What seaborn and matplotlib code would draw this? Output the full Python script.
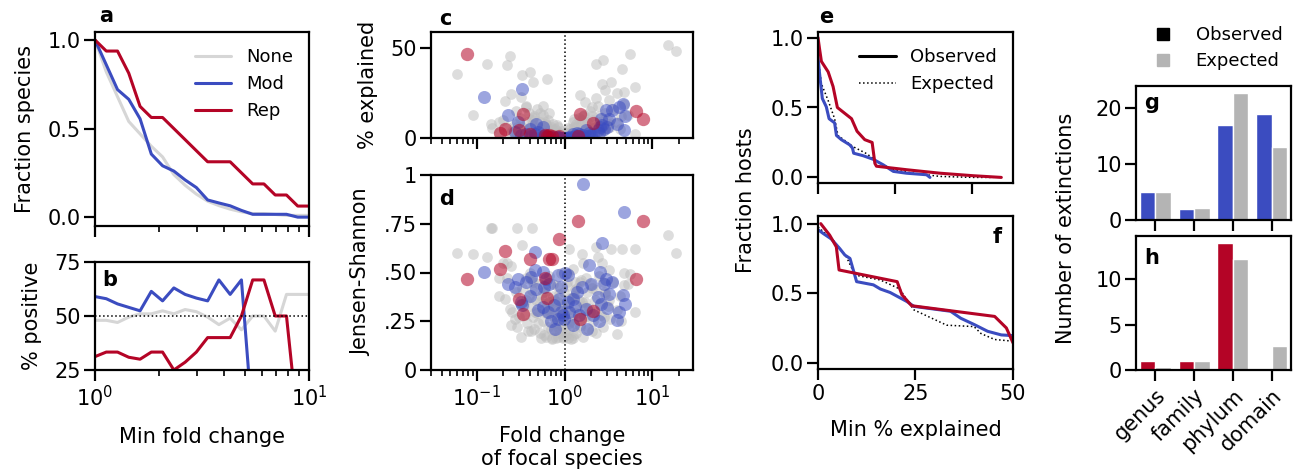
import numpy as np
import pandas as pd
import matplotlib
matplotlib.use("Agg")
import matplotlib.pyplot as plt
import seaborn as sns
from matplotlib.lines import Line2D
from matplotlib.ticker import NullFormatter

# ---------------- data ----------------
fold_grid = [1.0, 1.129, 1.274, 1.438, 1.624, 1.833, 2.069, 2.336, 2.637, 2.976,
             3.360, 3.793, 4.281, 4.833, 5.456, 6.158, 6.952, 7.848, 8.859, 10.0]
frac_none = [1.0, 0.82, 0.68, 0.54, 0.47, 0.40, 0.34, 0.24, 0.18, 0.13,
             0.09, 0.065, 0.045, 0.03, 0.02, 0.02, 0.015, 0.01, 0.01, 0.01]
frac_mod = [1.0, 0.86, 0.72, 0.665, 0.555, 0.356, 0.29, 0.26, 0.21, 0.167,
            0.097, 0.08, 0.064, 0.038, 0.016, 0.016, 0.016, 0.016, 0.0, 0.0]
frac_rep = [1.0, 0.9375, 0.9375, 0.8125, 0.625, 0.5625, 0.5625, 0.5, 0.4375, 0.375,
            0.3125, 0.3125, 0.3125, 0.25, 0.1875, 0.1875, 0.125, 0.125, 0.0625, 0.0625]
pos_none = [48, 48, 47, 49.5, 51, 51, 52.4, 51, 53, 52,
            49.5, 46, 49, 43.6, 50, 50, 43, 60, 60, 60]
pos_mod = [59, 58, 55.6, 54, 52.4, 61.4, 57, 63, 60, 58.3,
           57, 66.7, 60, 66.7, 0, np.nan, np.nan, np.nan, np.nan, np.nan]
pos_rep = [31.2, 33.3, 33.3, 30.9, 30, 33.3, 33.3, 25, 28.6, 33.3,
           40, 40, 40, 50, 66.7, 66.7, 50, 50, 0, np.nan]

# scatter: fold change of focal species, % explained, Jensen-Shannon
out_fc = [0.06, 0.091, 0.131, 0.144, 0.15, 0.18, 0.207, 0.22, 0.237, 0.247,
          0.247, 0.286, 0.32, 0.33, 0.366, 0.40, 0.41, 0.428, 0.44, 0.54,
          0.56, 0.625, 0.67, 14.9, 18.8, 5.55, 2.27, 2.77, 4.54, 2.69,
          3.35, 2.89, 3.92, 4.74, 6.3, 6.3, 1.49, 1.57, 1.70, 2.3,
          3.2, 2.07, 1.29, 1.08, 1.13, 4.35]
out_pct = [35.6, 12.7, 41.2, 8.0, 5.3, 9.0, 20.5, 40.7, 45.7, 24.5,
           3.0, 6.0, 23.0, 34.9, 17.3, 37.0, 6.0, 4.0, 31.3, 3.0,
           17.7, 32.8, 13.8, 51.5, 48.5, 46.7, 41.2, 43.5, 38.3, 30.0,
           31.3, 26.7, 24.8, 25.7, 28.2, 2.0, 23.9, 5.0, 20.1, 22.0,
           21.1, 17.3, 10.8, 5.3, 2.0, 12.0]
out_js = [0.602, 0.597, 0.58, 0.728, 0.728, 0.47, 0.362, 0.55, 0.314, 0.532,
          0.232, 0.728, 0.169, 0.643, 0.36, 0.50, 0.198, 0.728, 0.45, 0.166,
          0.40, 0.30, 0.35, 0.69, 0.60, 0.494, 0.631, 0.45, 0.619, 0.55,
          0.619, 0.40, 0.183, 0.434, 0.297, 0.619, 0.45, 0.597, 0.35, 0.30,
          0.511, 0.42, 0.38, 0.5, 0.619, 0.25]

clu_fc = [0.25, 0.27, 0.29, 0.31, 0.33, 0.35, 0.37, 0.39, 0.41, 0.43,
          0.45, 0.47, 0.49, 0.51, 0.53, 0.55, 0.57, 0.59, 0.61, 0.63,
          0.65, 0.67, 0.69, 0.71, 0.73, 0.75, 0.77, 0.79, 0.81, 0.83,
          0.85, 0.87, 0.89, 0.91, 0.93, 0.95, 0.97, 0.99, 1.01, 1.03,
          1.05, 1.08, 1.11, 1.14, 1.17, 1.2, 1.24, 1.28, 1.32, 1.36,
          1.4, 1.45, 1.5, 1.55, 1.6, 1.66, 1.72, 1.78, 1.85, 1.92,
          2.0, 2.1, 2.2, 2.3, 2.45, 2.6, 2.75, 2.9, 3.1, 3.3,
          3.6, 3.9, 4.3, 4.8, 5.3, 0.22, 0.2, 0.18, 0.72, 0.8,
          0.95, 1.1, 1.25]
clu_pct = [4, 8, 2, 11, 6, 3, 9, 14, 1, 7,
           12, 4, 16, 2, 9, 5, 13, 1, 7, 3,
           10, 2, 6, 1, 8, 3, 5, 1, 4, 2,
           6, 1, 3, 0.5, 2, 0.5, 1, 0.3, 0.3, 1,
           0.5, 2, 1, 3, 0.5, 4, 2, 6, 1, 8,
           3, 11, 2, 7, 4, 13, 1, 9, 5, 15,
           3, 10, 6, 2, 12, 8, 4, 14, 10, 6,
           16, 9, 5, 19, 13, 6, 10, 3, 0.2, 0.2,
           0.2, 0.2, 0.2]
clu_js = [0.30, 0.26, 0.22, 0.34, 0.42, 0.28, 0.24, 0.38, 0.33, 0.46,
          0.21, 0.36, 0.29, 0.44, 0.19, 0.31, 0.25, 0.40, 0.17, 0.34,
          0.22, 0.48, 0.28, 0.16, 0.38, 0.20, 0.31, 0.24, 0.43, 0.17,
          0.35, 0.27, 0.19, 0.50, 0.30, 0.22, 0.17, 0.40, 0.26, 0.18,
          0.45, 0.33, 0.21, 0.37, 0.16, 0.28, 0.52, 0.24, 0.41, 0.19,
          0.31, 0.36, 0.23, 0.46, 0.17, 0.33, 0.27, 0.40, 0.21, 0.30,
          0.44, 0.25, 0.36, 0.19, 0.48, 0.28, 0.22, 0.39, 0.33, 0.26,
          0.45, 0.31, 0.38, 0.50, 0.44, 0.47, 0.55, 0.38, 0.165, 0.165,
          0.165, 0.165, 0.165]

clu2_fc = [0.3, 0.34, 0.38, 0.42, 0.46, 0.5, 0.54, 0.58, 0.62, 0.66,
           0.7, 0.74, 0.78, 0.82, 0.86, 0.9, 0.94, 0.98, 1.02, 1.06,
           1.1, 1.15, 1.2, 1.26, 1.33, 1.4, 1.48, 1.56, 1.65, 1.75,
           1.9, 2.05, 2.25, 2.5, 2.8, 3.2, 0.28, 0.36, 0.44, 0.52,
           0.6, 0.68, 0.76, 0.84, 0.92, 1.0, 1.12, 1.3, 1.6, 2.4]
clu2_pct = [1, 5, 3, 10, 2, 6, 1, 4, 8, 2,
            5, 1, 3, 7, 1, 2, 4, 0.5, 1, 3,
            0.5, 5, 2, 9, 1, 6, 3, 10, 2, 7,
            4, 12, 6, 9, 5, 8, 15, 18, 11, 14,
            9, 4, 2, 1, 0.5, 0.2, 1.5, 3, 12, 18]
clu2_js = [0.27, 0.33, 0.20, 0.41, 0.30, 0.24, 0.38, 0.18, 0.29, 0.35,
           0.21, 0.44, 0.26, 0.32, 0.39, 0.23, 0.28, 0.34, 0.20, 0.43,
           0.31, 0.25, 0.37, 0.18, 0.29, 0.42, 0.22, 0.35, 0.27, 0.47,
           0.32, 0.20, 0.41, 0.34, 0.27, 0.36, 0.40, 0.47, 0.27, 0.35,
           0.44, 0.31, 0.36, 0.22, 0.34, 0.29, 0.24, 0.45, 0.55, 0.58]

mod_fc = [0.12, 0.226, 0.269, 0.294, 0.33, 0.32, 0.366, 0.417, 0.454, 0.454,
          0.474, 0.564, 0.589, 0.615, 0.671, 0.564, 0.643, 0.764, 0.834, 0.87,
          0.91, 0.95, 0.834, 1.0, 1.08, 1.13, 0.995, 1.23, 1.23, 1.47,
          1.57, 1.63, 1.75, 1.82, 1.87, 2.1, 2.43, 2.45, 2.51, 2.58,
          2.69, 2.82, 2.94, 3.07, 3.2, 3.5, 3.98, 4.17, 4.62, 4.74,
          4.9, 0.7, 0.78, 1.3, 1.4, 0.5, 0.4, 2.0, 1.1, 0.9]
mod_pct = [23.0, 12.7, 3.4, 9.0, 27.2, 1.5, 2.4, 1.0, 2.0, 0.8,
           8.0, 6.0, 1.2, 0.6, 0.5, 1.0, 0.4, 0.3, 0.3, 0.2,
           0.2, 0.2, 0.4, 0.1, 0.2, 0.3, 0.2, 2.0, 0.5, 2.4,
           0.8, 1.5, 4.3, 1.0, 3.0, 2.0, 4.3, 3.0, 6.0, 10.8,
           7.0, 5.0, 15.5, 6.0, 10.8, 15.5, 8.0, 17.0, 18.8, 4.7,
           12.0, 0.5, 0.2, 1.0, 3.0, 3.5, 5.0, 1.5, 0.1, 0.1]
mod_js = [0.503, 0.443, 0.426, 0.468, 0.332, 0.35, 0.451, 0.477, 0.605, 0.511,
          0.417, 0.503, 0.426, 0.468, 0.443, 0.323, 0.297, 0.332, 0.486, 0.366,
          0.426, 0.28, 0.263, 0.50, 0.486, 0.297, 0.263, 0.366, 0.229, 0.28,
          0.426, 0.955, 0.314, 0.212, 0.54, 0.28, 0.374, 0.25, 0.503, 0.34,
          0.651, 0.443, 0.465, 0.318, 0.39, 0.45, 0.255, 0.30, 0.386, 0.81,
          0.34, 0.25, 0.21, 0.33, 0.40, 0.31, 0.38, 0.44, 0.35, 0.30]

rep_fc = [0.078, 0.182, 0.211, 0.30, 0.335, 0.40, 0.59, 0.625,
          0.66, 0.72, 0.87, 1.41, 1.49, 2.08, 6.43, 7.78]
rep_pct = [46.6, 2.8, 4.9, 4.3, 13.6, 2.4, 1.5, 1.2,
           1.5, 1.2, 1.0, 1.0, 13.6, 8.4, 15.0, 10.3]
rep_js = [0.465, 0.52, 0.61, 0.362, 0.289, 0.567, 0.47, 0.37,
          0.567, 0.567, 0.673, 0.764, 0.263, 0.301, 0.468, 0.764]

# panel e: fraction hosts vs min % explained
e_rep_x = [0, 0.5, 1.1, 3.3, 4.9, 6.3, 10.9, 12.7, 15.2, 17.6, 18.5, 19.0, 28.8, 39.7, 50.5, 59.6]
e_rep_y = [1.0, 0.92, 0.83, 0.755, 0.65, 0.50, 0.42, 0.33, 0.27, 0.25, 0.10, 0.08, 0.055, 0.03, 0.012, 0.0]
e_mod_x = [0, 0.5, 1.4, 2.7, 3.6, 5.4, 6.0, 7.6, 10.3, 11.2, 11.6, 14.7, 17.9, 21.2, 24.5, 28.8, 35.3, 36.4]
e_mod_y = [0.86, 0.745, 0.565, 0.505, 0.42, 0.39, 0.30, 0.27, 0.233, 0.21, 0.173, 0.155, 0.13, 0.09, 0.043, 0.03, 0.019, 0.0]
e_exp_x = [0, 1.1, 3.3, 5.4, 6.5, 11.4, 15.8, 20.1, 24.5, 31.0, 39.7, 50.5, 57.0]
e_exp_y = [0.86, 0.67, 0.55, 0.42, 0.30, 0.22, 0.17, 0.10, 0.055, 0.03, 0.007, 0.0, 0.0]

# panel f
f_rep_x = [0.7, 3.0, 4.7, 5.4, 20.3, 21.5, 24.0, 45.3, 48.3, 50]
f_rep_y = [1.0, 0.917, 0.833, 0.667, 0.583, 0.49, 0.41, 0.333, 0.25, 0.143]
f_mod_x = [0, 1.3, 3.4, 5.6, 6.9, 8.2, 9.9, 14.2, 16.0, 18.5, 22.8, 24.6, 34.0, 36.6, 40.1, 43.5, 47.0, 50]
f_mod_y = [0.957, 0.93, 0.89, 0.82, 0.774, 0.75, 0.583, 0.56, 0.53, 0.505, 0.44, 0.405, 0.37, 0.32, 0.274, 0.226, 0.20, 0.195]
f_exp_x = [0, 3.9, 7.3, 9.5, 16, 21, 22.8, 24.6, 33, 40, 41.8, 45.3, 50]
f_exp_y = [0.976, 0.88, 0.76, 0.63, 0.595, 0.53, 0.45, 0.38, 0.27, 0.26, 0.21, 0.167, 0.155]

# panels g, h
levels = ["genus", "family", "phylum", "domain"]
g_obs = [5, 2, 17, 19]
g_exp = [5, 2.2, 22.7, 13]
h_obs = [1, 1, 14, 0]
h_exp = [0.35, 1, 12.2, 2.6]

# ---------------- style ----------------
BLUE = "#3b4cc0"
RED = "#b40426"
LGRAY = "#d6d6d6"
BGRAY = "#b4b4b4"
FS = 15

sns.set_style("ticks")
plt.rcParams.update({
    "font.family": ["DejaVu Sans"],
    "font.size": FS, "axes.labelsize": FS,
    "xtick.labelsize": FS, "ytick.labelsize": FS, "legend.fontsize": 13,
    "axes.linewidth": 1.6, "axes.edgecolor": "black",
    "xtick.color": "black", "ytick.color": "black",
    "xtick.major.width": 1.6, "ytick.major.width": 1.6,
    "xtick.major.size": 8, "ytick.major.size": 8,
    "xtick.minor.size": 4.5, "xtick.minor.width": 1.2,
    "ytick.minor.size": 4.5, "ytick.minor.width": 1.2,
    "xtick.major.pad": 3, "ytick.major.pad": 2,
    "text.color": "black", "axes.labelcolor": "black",
})

W, H = 1298, 469
fig = plt.figure(figsize=(W / 100, H / 100), dpi=100)


def add(l, t, r, b):
    return fig.add_axes([l / W, 1 - b / H, (r - l) / W, (b - t) / H])


ax_a = add(95, 32, 309, 226)
ax_b = add(95, 262, 309, 370)
ax_c = add(431, 32, 693, 138)
ax_d = add(431, 175, 693, 370)
ax_e = add(818, 32, 1013, 183)
ax_f = add(818, 216, 1013, 369)
ax_g = add(1136, 86, 1291, 220)
ax_h = add(1136, 236, 1291, 370)

grp_pal = {"None": LGRAY, "Mod": BLUE, "Rep": RED}
LET = dict(weight="bold", fontsize=15)

# ---- panel a ----
df_a = pd.DataFrame({
    "fold": fold_grid * 3,
    "frac": frac_none + frac_mod + frac_rep,
    "group": ["None"] * 20 + ["Mod"] * 20 + ["Rep"] * 20,
})
ax_a.set_xscale("log")
sns.lineplot(data=df_a, x="fold", y="frac", hue="group", palette=grp_pal,
             hue_order=["None", "Mod", "Rep"], lw=2.2, estimator=None, sort=False, ax=ax_a)
ax_a.set_xlim(1, 10)
ax_a.set_ylim(-0.05, 1.045)
ax_a.set_yticks([0, 0.5, 1.0])
ax_a.tick_params(axis="x", which="both", labelbottom=False)
ax_a.set_xlabel("")
ax_a.set_ylabel("Fraction species", labelpad=9)
ax_a.legend(frameon=False, loc="upper right", handlelength=2.0)
ax_a.text(0.02, 1.03, "a", transform=ax_a.transAxes, va="bottom", **LET)

# ---- panel b ----
df_b = pd.DataFrame({
    "fold": fold_grid * 3,
    "pos": pos_none + pos_mod + pos_rep,
    "group": ["None"] * 20 + ["Mod"] * 20 + ["Rep"] * 20,
})
ax_b.set_xscale("log")
sns.lineplot(data=df_b, x="fold", y="pos", hue="group", palette=grp_pal,
             hue_order=["None", "Mod", "Rep"], lw=2.2, estimator=None, sort=False,
             legend=False, ax=ax_b)
ax_b.axhline(50, color="black", ls=":", lw=1.1)
ax_b.set_xlim(1, 10)
ax_b.set_ylim(25, 75)
ax_b.set_yticks([25, 50, 75])
ax_b.xaxis.set_minor_formatter(NullFormatter())
ax_b.set_ylabel("% positive", labelpad=9)
ax_b.set_xlabel("Min fold change", labelpad=12)
ax_b.text(0.033, 0.93, "b", transform=ax_b.transAxes, va="top", **LET)

# ---- panels c, d ----
df_gray = pd.DataFrame({"fc": out_fc + clu_fc + clu2_fc,
                        "pct": out_pct + clu_pct + clu2_pct,
                        "js": out_js + clu_js + clu2_js})
df_mod = pd.DataFrame({"fc": mod_fc, "pct": mod_pct, "js": mod_js})
df_rep = pd.DataFrame({"fc": rep_fc, "pct": rep_pct, "js": rep_js})

for ax, col in [(ax_c, "pct"), (ax_d, "js")]:
    ax.set_xscale("log")
    sns.scatterplot(data=df_gray, x="fc", y=col, color="#bdbdbd", alpha=0.5, s=60,
                    linewidth=0, ax=ax)
    sns.scatterplot(data=df_mod, x="fc", y=col, color=BLUE, alpha=0.5, s=88,
                    linewidth=0, ax=ax)
    sns.scatterplot(data=df_rep, x="fc", y=col, color=RED, alpha=0.55, s=92,
                    linewidth=0, ax=ax)
    ax.axvline(1, color="black", ls=":", lw=1.1)
    ax.set_xlim(0.03, 29)
    ax.xaxis.set_minor_formatter(NullFormatter())

ax_c.set_ylim(0, 59)
ax_c.set_yticks([0, 50])
ax_c.tick_params(axis="x", which="both", labelbottom=False)
ax_c.set_xlabel("")
ax_c.set_ylabel("% explained", labelpad=9)
ax_c.text(0.03, 1.03, "c", transform=ax_c.transAxes, va="bottom", **LET)

ax_d.set_ylim(0, 1)
ax_d.set_yticks([0, 0.25, 0.5, 0.75, 1])
ax_d.set_yticklabels(["0", ".25", ".50", ".75", "1"])
ax_d.set_ylabel("Jensen-Shannon", labelpad=9)
ax_d.set_xlabel("Fold change\nof focal species", labelpad=11)
ax_d.text(0.03, 0.93, "d", transform=ax_d.transAxes, va="top", **LET)

# ---- panel e ----
sns.lineplot(x=e_exp_x, y=e_exp_y, color="black", ls=":", lw=1.1, estimator=None, sort=False, ax=ax_e)
sns.lineplot(x=e_mod_x, y=e_mod_y, color=BLUE, lw=2.2, estimator=None, sort=False, ax=ax_e)
sns.lineplot(x=e_rep_x, y=e_rep_y, color=RED, lw=2.2, estimator=None, sort=False, ax=ax_e)
ax_e.set_xlim(0, 63.4)
ax_e.set_ylim(-0.04, 1.04)
ax_e.set_xticks([0, 25, 50])
ax_e.set_yticks([0, 0.5, 1.0])
ax_e.tick_params(axis="x", labelbottom=False)
leg_handles = [Line2D([], [], color="black", lw=2.2), Line2D([], [], color="black", ls=":", lw=1.1)]
ax_e.legend(leg_handles, ["Observed", "Expected"], frameon=False, loc="upper right")
ax_e.text(0.005, 1.03, "e", transform=ax_e.transAxes, va="bottom", **LET)

# ---- panel f ----
sns.lineplot(x=f_exp_x, y=f_exp_y, color="black", ls=":", lw=1.1, estimator=None, sort=False, ax=ax_f)
sns.lineplot(x=f_mod_x, y=f_mod_y, color=BLUE, lw=2.2, estimator=None, sort=False, ax=ax_f)
sns.lineplot(x=f_rep_x, y=f_rep_y, color=RED, lw=2.2, estimator=None, sort=False, ax=ax_f)
ax_f.set_xlim(0, 50)
ax_f.set_ylim(-0.045, 1.055)
ax_f.set_xticks([0, 25, 50])
ax_f.set_yticks([0, 0.5, 1.0])
ax_f.set_xlabel("Min % explained", labelpad=11)
ax_f.text(0.94, 0.93, "f", transform=ax_f.transAxes, va="top", ha="right", **LET)
fig.text(746 / W, 1 - 200 / H, "Fraction hosts", rotation=90, ha="center", va="center", fontsize=FS)

# ---- panels g, h ----
df_g = pd.DataFrame({"level": levels * 2, "n": g_obs + g_exp,
                     "kind": ["Observed"] * 4 + ["Expected"] * 4})
df_h = pd.DataFrame({"level": levels * 2, "n": h_obs + h_exp,
                     "kind": ["Observed"] * 4 + ["Expected"] * 4})
sns.barplot(data=df_g, x="level", y="n", hue="kind", palette={"Observed": BLUE, "Expected": BGRAY},
            saturation=1, legend=False, ax=ax_g)
sns.barplot(data=df_h, x="level", y="n", hue="kind", palette={"Observed": RED, "Expected": BGRAY},
            saturation=1, legend=False, ax=ax_h)
ax_g.set_ylim(0, 24)
ax_g.set_yticks([0, 10, 20])
ax_g.tick_params(axis="x", labelbottom=False)
ax_h.set_ylim(0, 14.75)
ax_h.set_yticks([0, 5, 10])
for ax in (ax_g, ax_h):
    ax.set_xlabel("")
    ax.set_ylabel("")
    ax.set_xlim(-0.5, 3.5)
plt.setp(ax_h.get_xticklabels(), rotation=45, ha="right", rotation_mode="anchor")
ax_g.text(0.05, 0.95, "g", transform=ax_g.transAxes, va="top", **LET)
ax_h.text(0.05, 0.91, "h", transform=ax_h.transAxes, va="top", **LET)
fig.text(1066 / W, 1 - 228 / H, "Number of extinctions", rotation=90, ha="center", va="center", fontsize=FS)

sq = [Line2D([], [], marker="s", color="black", ls="none", markersize=9),
      Line2D([], [], marker="s", color=BGRAY, ls="none", markersize=9)]
fig.legend(sq, ["Observed", "Expected"], loc="upper left", bbox_to_anchor=(1145 / W, 1 - 26 / H),
           frameon=False, borderpad=0, borderaxespad=0, labelspacing=0.45, handletextpad=0.8)

fig.savefig("out.png", dpi=100)
